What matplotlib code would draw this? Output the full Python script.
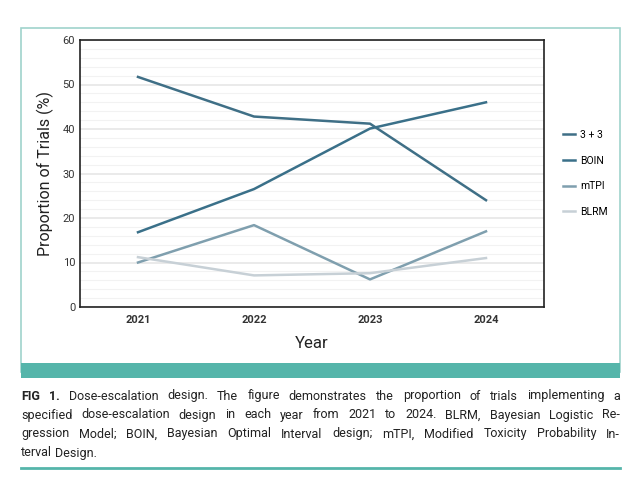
import matplotlib.pyplot as plt
from matplotlib.patches import Rectangle
from matplotlib.lines import Line2D
import numpy as np

plt.rcParams['font.family'] = ['Roboto', 'DejaVu Sans']

years = [2021, 2022, 2023, 2024]
three_plus_three = [51.7, 42.8, 41.2, 24.0]
boin = [16.8, 26.5, 40.1, 46.0]
mtpi = [10.0, 18.4, 6.2, 17.0]
blrm = [11.2, 7.1, 7.6, 11.0]

series = [
    ('3 + 3', three_plus_three, '#3f6f86'),
    ('BOIN', boin, '#3a7089'),
    ('mTPI', mtpi, '#7f9fae'),
    ('BLRM', blrm, '#c7d0d6'),
]

W, H = 641, 493
fig = plt.figure(figsize=(W / 100, H / 100), dpi=100)

# panel frame and teal band
fig.patches.append(Rectangle((21 / W, 1 - 372 / H), 599 / W, 344 / H, transform=fig.transFigure,
                             fill=False, edgecolor='#9fd3cc', linewidth=1.2))
fig.patches.append(Rectangle((21 / W, 1 - 378 / H), 599 / W, 15 / H, transform=fig.transFigure,
                             facecolor='#55b5aa', edgecolor='none'))
fig.lines.append(Line2D([21 / W, 620 / W], [1 - 468 / H] * 2, transform=fig.transFigure,
                        color='#55b5aa', linewidth=2))

ax = fig.add_axes([80 / W, 1 - 307 / H, 464 / W, 267 / H])
x = np.arange(len(years))
for name, vals, col in series:
    ax.plot(x, vals, color=col, linewidth=1.8, label=name)

ax.set_xlim(-0.5, 3.5)
ax.set_ylim(0, 60)
ax.set_xticks(x)
ax.set_xticklabels([str(y) for y in years], fontsize=8, fontweight='bold', color='#333333')
ax.set_yticks(range(0, 61, 10))
ax.set_yticks(range(0, 61, 2), minor=True)
ax.tick_params(axis='y', labelsize=8, colors='#333333', length=0, which='both')
ax.tick_params(axis='x', length=0, pad=6)
ax.grid(axis='y', which='major', color='#e6e6e6', linewidth=1.2)
ax.grid(axis='y', which='minor', color='#f2f2f2', linewidth=0.8)
ax.set_axisbelow(True)
for s in ax.spines.values():
    s.set_color('#222222')
    s.set_linewidth(1.2)
ax.set_xlabel('Year', fontsize=12, labelpad=8, color='#222222')
ax.set_ylabel('Proportion of Trials (%)', fontsize=11.5, labelpad=6, color='#222222')

ax.legend(loc='center left', bbox_to_anchor=(1.02, 0.5), frameon=False, fontsize=7.5,
          handlelength=1.2, labelspacing=1.5, handletextpad=0.5)

# caption, justified to panel width
caption = [
    ("FIG 1. Dose-escalation design. The figure demonstrates the proportion of trials implementing a", 396, True),
    ("specified dose-escalation design in each year from 2021 to 2024. BLRM, Bayesian Logistic Re-", 415, True),
    ("gression Model; BOIN, Bayesian Optimal Interval design; mTPI, Modified Toxicity Probability In-", 434, True),
    ("terval Design.", 453, False),
]
fig.canvas.draw()
renderer = fig.canvas.get_renderer()
left, right = 21, 620
for line, yy, justify in caption:
    words = line.split(' ')
    texts = []
    for i, w in enumerate(words):
        bold = line.startswith('FIG') and i < 2
        t = fig.text(0, 1 - yy / H, w, fontsize=9, va='center', ha='left', color='#222222',
                     fontweight='bold' if bold else 'normal')
        texts.append(t)
    widths = [t.get_window_extent(renderer).width for t in texts]
    if justify:
        gap = (right - left - sum(widths)) / (len(words) - 1)
    else:
        gap = 2.6
    pos = left
    for t, wd in zip(texts, widths):
        t.set_x(pos / W)
        pos += wd + gap

fig.savefig('out.png', dpi=100)
